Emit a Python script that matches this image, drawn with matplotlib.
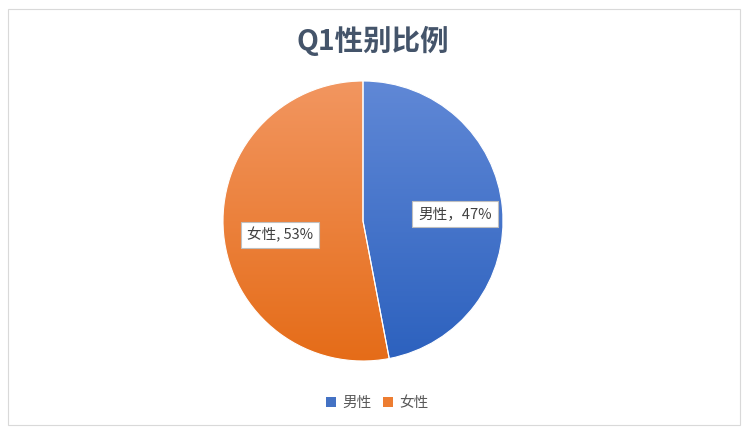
import matplotlib.pyplot as plt
import matplotlib.colors as mcolors
from matplotlib.patches import Rectangle, Patch
import numpy as np

plt.rcParams['font.family'] = ['Noto Sans CJK SC', 'DejaVu Sans']

labels = ['男性', '女性']
shares = [47, 53]
label_texts = ['男性，47%', '女性, 53%']
# gradient colours (top, bottom) per slice
grad_colors = [('#6088d6', '#2c61be'), ('#f29660', '#e56c18')]
legend_colors = ['#4472c4', '#ed7d31']

fig = plt.figure(figsize=(7.48, 4.34), dpi=100)
fig.patches.append(Rectangle((8 / 748, 9 / 434), 732 / 748, 416 / 434,
                             transform=fig.transFigure, fill=False,
                             edgecolor='#d9d9d9', linewidth=0.8))

cx, cy, r = 363, 434 - 221, 140
ax = fig.add_axes([(cx - r) / 748, (cy - r) / 434, 2 * r / 748, 2 * r / 434])
wedges, _ = ax.pie(shares, startangle=90, counterclock=False, radius=1,
                   colors=['none', 'none'], wedgeprops=dict(linewidth=0))
ax.axis('off')

grad = np.linspace(0, 1, 256).reshape(-1, 1)
for w, (top, bot) in zip(wedges, grad_colors):
    cmap = mcolors.LinearSegmentedColormap.from_list('g', [top, bot])
    im = ax.imshow(grad, cmap=cmap, extent=[-1, 1, -1, 1], aspect='auto',
                   origin='upper', zorder=1)
    im.set_clip_path(w)
    w.set_edgecolor('white')
    w.set_linewidth(0.8)
    w.set_zorder(2)

ax.set_xlim(-1, 1)
ax.set_ylim(-1, 1)

box = dict(boxstyle='square,pad=0.4', facecolor='white', edgecolor='#bfbfbf', linewidth=0.8)
ax.text((455 - cx) / r, ((434 - 214) - cy) / r, label_texts[0], ha='center', va='center',
        fontsize=10.5, color='#404040', bbox=box, zorder=5)
ax.text((280 - cx) / r, ((434 - 235) - cy) / r, label_texts[1], ha='center', va='center',
        fontsize=10.5, color='#404040', bbox=box, zorder=5)

fig.text(373 / 748, 1 - 41 / 434, 'Q1性别比例', ha='center', va='center',
         fontsize=20.5, fontweight='bold', color='#44546a')

handles = [Patch(facecolor=c, edgecolor='none') for c in legend_colors]
fig.legend(handles, labels, loc='center', bbox_to_anchor=(377 / 748, 1 - 403 / 434),
           ncol=2, frameon=False, fontsize=10.5, handlelength=0.7, handleheight=0.7,
           handletextpad=0.4, columnspacing=0.8, labelcolor='#595959')

fig.savefig('out.png', dpi=100)
